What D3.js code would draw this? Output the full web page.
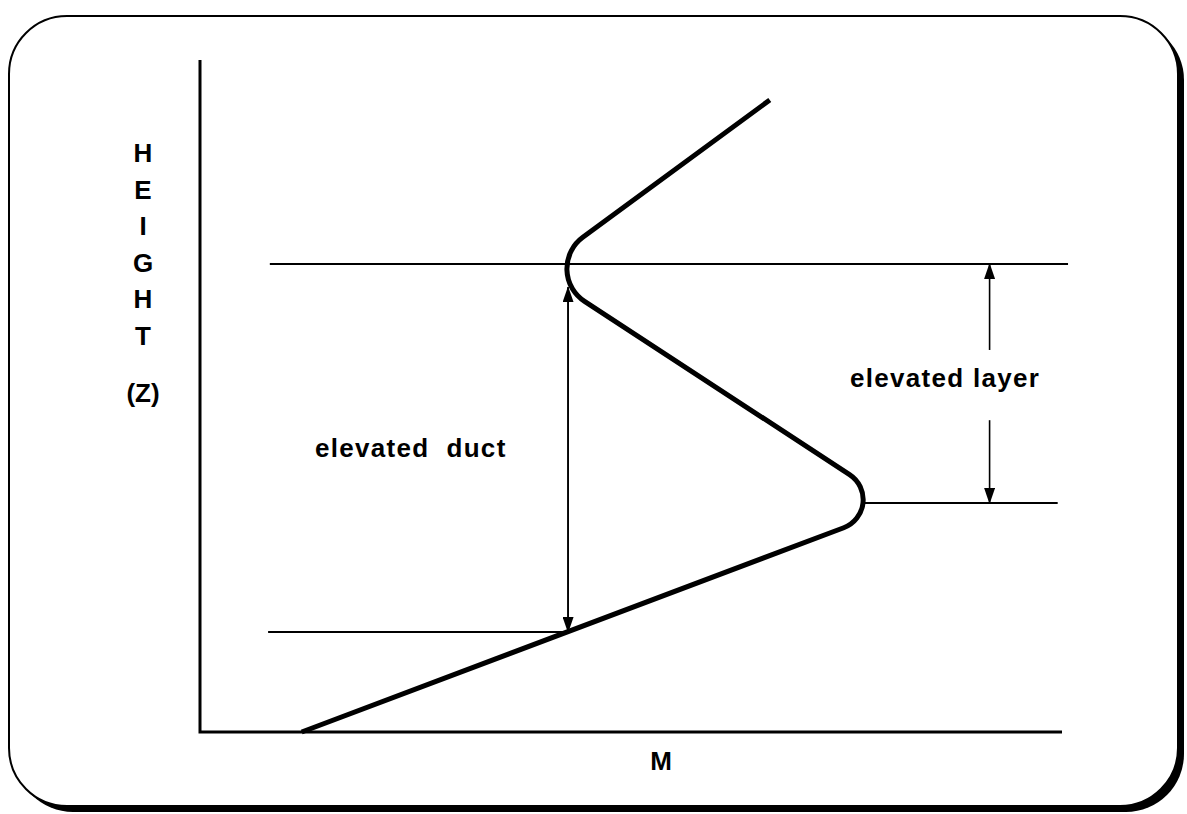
<!DOCTYPE html>
<html>
  <head>
    <meta charset="utf-8" />
    <title>elevated duct</title>
    <script src="https://cdn.jsdelivr.net/npm/d3@7"></script>
    <style type="text/css">
      body { margin: 0; background: #fff; }
      text { font-family: "Liberation Sans", Arial, sans-serif; font-weight: bold; fill: #000; }
    </style>
  </head>
  <body>
    <svg id="chart" width="1187" height="814"></svg>
    <script type="text/javascript">
      // M profile: straight pieces meeting at two corners (M, Z), rounded when drawn
      var profile = [
        [11.8, 0],
        [81.1, 33.5],
        [39.15, 68.65],
        [66.1, 94.05],
      ];
      var cornerRadius = [30, 39]; // px, for the two inner vertices

      // horizontal reference lines [M from, M to, Z]
      var levels = [
        [8.1, 100.7, 69.64], // top of duct / layer
        [76.9, 99.5, 34.08], // bottom of layer
        [7.9, 42.7, 14.88],  // bottom of duct
      ];

      // arrows [M, Z from, Z to] (head at "to")
      var arrows = [
        [42.7, 14.88, 66.2],
        [42.7, 66.2, 14.88],
        [91.6, 56.85, 69.64],
        [91.6, 46.4, 34.08],
      ];

      var yLetters = ['H', 'E', 'I', 'G', 'H', 'T'];

      var W = 1187, H = 814;
      var svg = d3.select('#chart');

      var x = d3.scaleLinear().domain([0, 100]).range([200, 1062]);
      var y = d3.scaleLinear().domain([0, 100]).range([732, 60]);

      // frame with heavy shadow on right / bottom
      svg.append('rect')
        .attr('x', 15).attr('y', 22)
        .attr('width', 1169).attr('height', 790)
        .attr('rx', 58).attr('fill', '#000');
      svg.append('rect')
        .attr('x', 9).attr('y', 16)
        .attr('width', 1169).attr('height', 790)
        .attr('rx', 58)
        .attr('fill', '#fff').attr('stroke', '#000').attr('stroke-width', 2);

      var defs = svg.append('defs');
      defs.append('marker')
        .attr('id', 'head')
        .attr('viewBox', '0 0 16 11')
        .attr('refX', 15).attr('refY', 5.5)
        .attr('markerWidth', 16).attr('markerHeight', 11)
        .attr('markerUnits', 'userSpaceOnUse')
        .attr('orient', 'auto')
        .append('path')
        .attr('d', 'M0,0 L16,5.5 L0,11 Z')
        .attr('fill', '#000');

      // axes (plain lines, no ticks)
      svg.append('path')
        .attr('d', d3.line()([[x(0), y(100)], [x(0), y(0)], [x(100), y(0)]]))
        .attr('fill', 'none').attr('stroke', '#000').attr('stroke-width', 3);

      // reference levels
      svg.selectAll('.level')
        .data(levels)
        .enter()
        .append('line')
        .attr('class', 'level')
        .attr('x1', (d) => x(d[0]))
        .attr('x2', (d) => x(d[1]))
        .attr('y1', (d) => y(d[2]))
        .attr('y2', (d) => y(d[2]))
        .attr('stroke', '#000').attr('stroke-width', 2);

      // arrows
      svg.selectAll('.arrow')
        .data(arrows)
        .enter()
        .append('line')
        .attr('class', 'arrow')
        .attr('x1', (d) => x(d[0]))
        .attr('x2', (d) => x(d[0]))
        .attr('y1', (d) => y(d[1]))
        .attr('y2', (d) => y(d[2]))
        .attr('stroke', '#000').attr('stroke-width', 1.6)
        .attr('marker-end', 'url(#head)');

      // profile curve with rounded corners
      var pts = profile.map((d) => [x(d[0]), y(d[1])]);
      var p = d3.path();
      p.moveTo(pts[0][0], pts[0][1]);
      for (var i = 1; i < pts.length - 1; i++) {
        p.arcTo(pts[i][0], pts[i][1], pts[i + 1][0], pts[i + 1][1], cornerRadius[i - 1]);
      }
      p.lineTo(pts[pts.length - 1][0], pts[pts.length - 1][1]);
      svg.append('path')
        .attr('d', p.toString())
        .attr('fill', 'none')
        .attr('stroke', '#000')
        .attr('stroke-width', 5)
        .attr('stroke-linejoin', 'round');

      // labels
      var fs = 26;
      svg.selectAll('.yl')
        .data(yLetters)
        .enter()
        .append('text')
        .attr('class', 'yl')
        .attr('x', 143)
        .attr('y', (d, i) => 162 + i * 36.5)
        .attr('text-anchor', 'middle')
        .attr('font-size', fs)
        .text((d) => d);
      svg.append('text')
        .attr('x', 143).attr('y', 402)
        .attr('text-anchor', 'middle')
        .attr('font-size', fs)
        .text('(Z)');

      svg.append('text')
        .attr('x', 661).attr('y', 770)
        .attr('text-anchor', 'middle')
        .attr('font-size', fs)
        .text('M');

      svg.append('text')
        .attr('x', 315).attr('y', 457)
        .attr('font-size', fs)
        .attr('letter-spacing', 1.3)
        .style('white-space', 'pre')
        .text('elevated  duct');

      svg.append('text')
        .attr('x', 850).attr('y', 387)
        .attr('font-size', fs)
        .attr('letter-spacing', 1.3)
        .text('elevated layer');
    </script>
  </body>
</html>
